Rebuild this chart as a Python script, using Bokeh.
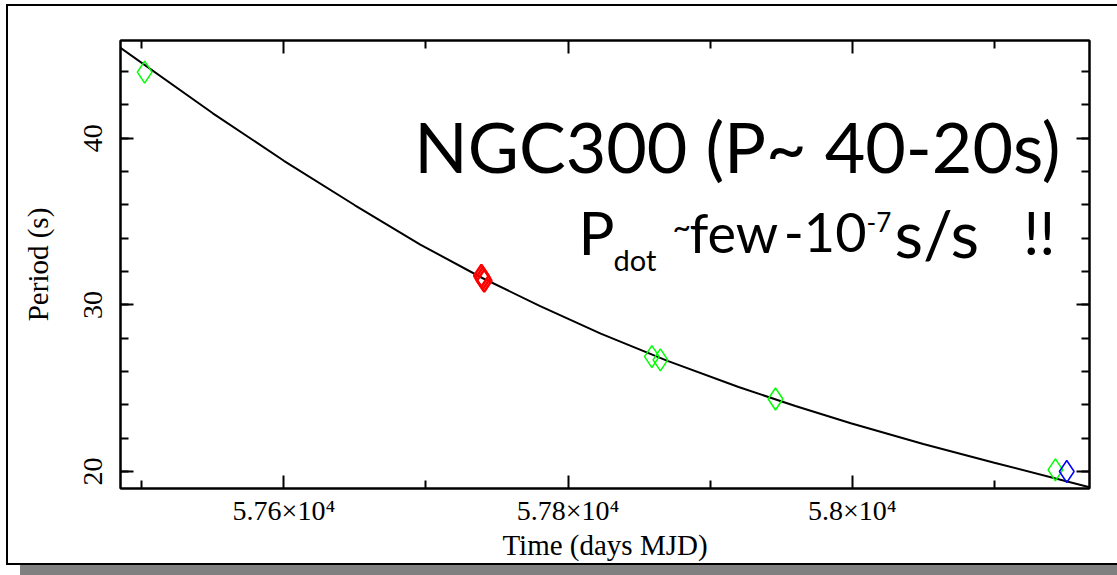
from bokeh.plotting import figure
from bokeh.layouts import column
from bokeh.models import Range1d, FixedTicker, LinearAxis, Label
from bokeh.embed import file_html
from bokeh.resources import INLINE

# ---- data ----
curve_t = [57485, 57550, 57600, 57650, 57696, 57740, 57780, 57823, 57870, 57920, 57960, 57999, 58050, 58100, 58167]
curve_p = [45.43, 41.50, 38.65, 35.98, 33.62, 31.60, 29.94, 28.28, 26.64, 25.07, 23.93, 22.90, 21.65, 20.53, 19.05]

green_t = [57502, 57859, 57865, 57946, 58143]
green_p = [43.97, 26.9, 26.7, 24.35, 20.1]
red_t = [57739, 57740, 57741]
red_p = [31.75, 31.6, 31.45]
blue_t = [58151]
blue_p = [20.0]

x_major = [57600, 57800, 58000]
x_minor = [57500, 57700, 57900, 58100]
x_labels = ["5.76×10⁴", "5.78×10⁴", "5.8×10⁴"]
y_major = [20, 30, 40]
y_minor = [20, 22, 24, 26, 28, 30, 32, 34, 36, 38, 40, 42, 44]
y_labels = ["20", "30", "40"]

X0, X1 = 57485, 58167
Y0, Y1 = 18.98, 45.87

# page geometry (pixels)
OX, OY = 8, 6            # figure origin inside the framed box
W, H = 1109, 557         # figure size
L, R, T, B = 120, 1089, 40, 489   # plot frame in page pixels

def dx(px):
    return X0 + (px - L) * (X1 - X0) / (R - L)

def dy(py):
    return Y0 + (B - py) * (Y1 - Y0) / (B - T)

p = figure(width=W, height=H, x_range=Range1d(X0, X1), y_range=Range1d(Y0, Y1),
           output_backend="svg", toolbar_location=None,
           min_border_left=L - OX, min_border_right=W - (R - OX),
           min_border_top=T - OY, min_border_bottom=H - (B - OY))
p.grid.visible = False
p.background_fill_color = "white"
p.border_fill_color = "white"
p.outline_line_color = "black"
p.outline_line_width = 2

serif = "Liberation Serif"

def style_axis(ax, labels=True):
    ax.axis_line_color = "black"
    ax.axis_line_width = 2
    ax.major_tick_in = 13
    ax.major_tick_out = 0
    ax.minor_tick_in = 8
    ax.minor_tick_out = 0
    ax.major_tick_line_width = 2
    ax.minor_tick_line_width = 2
    ax.major_label_text_font = serif
    ax.major_label_text_color = "black"
    ax.axis_label_text_font = serif
    ax.axis_label_text_font_style = "normal"
    ax.axis_label_text_color = "black"
    if not labels:
        ax.major_label_overrides = {t: "" for t in ax.ticker.ticks}
        ax.major_label_text_color = None
        ax.major_label_standoff = 0

xa = p.xaxis[0]
xa.ticker = FixedTicker(ticks=x_major, minor_ticks=x_minor)
xa.major_label_overrides = {t: s for t, s in zip(x_major, x_labels)}
style_axis(xa)
xa.major_label_text_font_size = "28px"
xa.major_label_standoff = 6
xa.axis_label = "Time (days MJD)"
xa.axis_label_text_font_size = "29px"
xa.axis_label_standoff = 0

ya = p.yaxis[0]
ya.ticker = FixedTicker(ticks=y_major, minor_ticks=y_minor)
ya.major_label_overrides = {t: s for t, s in zip(y_major, y_labels)}
style_axis(ya)
ya.major_label_text_font_size = "28px"
ya.major_label_orientation = "vertical"
ya.major_label_standoff = 18
ya.axis_label = "Period (s)"
ya.axis_label_text_font_size = "29px"
ya.axis_label_standoff = 28

top_ax = LinearAxis(ticker=FixedTicker(ticks=x_major, minor_ticks=x_minor))
style_axis(top_ax, labels=False)
p.add_layout(top_ax, "above")
right_ax = LinearAxis(ticker=FixedTicker(ticks=y_major, minor_ticks=y_minor))
style_axis(right_ax, labels=False)
p.add_layout(right_ax, "right")

# model curve and data
p.line(curve_t, curve_p, line_color="black", line_width=2)
p.scatter(green_t, green_p, marker="diamond", size=22, fill_color=None,
          line_color="#00ff00", line_width=1.5)
p.scatter(red_t, red_p, marker="diamond", size=22, fill_color=None,
          line_color="#ff0000", line_width=2.5)
p.scatter(blue_t, blue_p, marker="diamond", size=22, fill_color=None,
          line_color="#0000ff", line_width=1.5)

sans = "Lato"

def lab(txt, px, py, size, align="left"):
    p.add_layout(Label(x=dx(px), y=dy(py), text=txt, text_font=sans,
                       text_font_size=f"{size}px", text_color="black",
                       text_align=align, text_baseline="alphabetic"))

lab("NGC300 (P~ 40-20s)", 1060, 146, 70, "right")
lab("P", 578, 232, 60)
lab("dot", 613, 259, 29)
lab("~", 672, 226, 32)
lab("few", 689, 232, 54)
lab("-10", 866, 232, 54, "right")
lab("-7", 866, 222, 26)
lab("s/s", 894, 232, 66)
lab("!!", 1055, 232, 60, "right")

# framed box (open on the right, where the page cuts it) with a grey drop shadow
layout = column(p, styles={
    "margin-left": "6px",
    "margin-top": "4px",
    "border": "2px solid black",
    "border-right": "none",
    "box-shadow": "14px 12px 0 0 #808080",
    "background-color": "white",
})

open("out.html", "w").write(file_html(layout, INLINE))
